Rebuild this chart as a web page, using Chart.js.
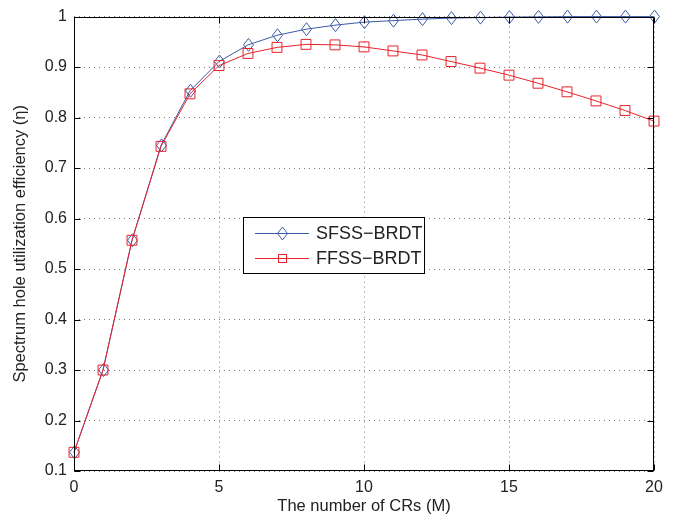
<!DOCTYPE html>
<html><head><meta charset="utf-8">
<script src="https://cdn.jsdelivr.net/npm/chart.js@4/dist/chart.umd.min.js"></script>
<style>html,body{margin:0;padding:0;background:#fff;}#wrap{width:675px;height:518px;}</style>
</head><body>
<div id="wrap"><canvas id="c" width="675" height="518"></canvas></div>
<script>
// ---- data ----
const numCRs = [0,1,2,3,4,5,6,7,8,9,10,11,12,13,14,15,16,17,18,19,20];
const sfssBrdt = [0.137,0.300,0.557,0.745,0.853,0.911,0.944,0.963,0.975,0.983,0.989,0.992,0.995,0.997,0.998,0.999,0.9995,1.0,1.0,1.0,1.0];
const ffssBrdt = [0.137,0.300,0.557,0.743,0.847,0.903,0.927,0.939,0.945,0.944,0.940,0.932,0.924,0.911,0.898,0.884,0.868,0.851,0.833,0.814,0.793];
const xTickValues = [0,5,10,15,20];
const yTickValues = [0.1,0.2,0.3,0.4,0.5,0.6,0.7,0.8,0.9,1];
const seriesNames = ['SFSS\u2212BRDT','FFSS\u2212BRDT'];
const xTitle = 'The number of CRs (M)';
const yTitle = 'Spectrum hole utilization efficiency (\u03B7)';

const BLUE = '#3c5aa8', RED = '#e8232b';
const FONT = "'Liberation Sans', Arial, Helvetica, sans-serif";
Chart.defaults.font.family = FONT;
Chart.defaults.font.size = 16;
Chart.defaults.color = '#222';

function drawDiamond(ctx, x, y, color){
  ctx.save();
  ctx.strokeStyle = color; ctx.lineWidth = 1; ctx.setLineDash([]);
  ctx.beginPath();
  ctx.moveTo(x, y-6.5); ctx.lineTo(x+5, y); ctx.lineTo(x, y+6.5); ctx.lineTo(x-5, y); ctx.closePath();
  ctx.stroke();
  ctx.restore();
}

const toPts = ys => numCRs.map((x,i)=>({x:x,y:ys[i]}));

const diamondPlugin = {
  id:'diamonds',
  afterDatasetDraw(chart, args){
    if (args.index !== 0) return;
    const ds = chart.data.datasets[0];
    args.meta.data.forEach(el=>{
      drawDiamond(chart.ctx, Math.round(el.x)+0.5, el.y, ds.borderColor);
    });
  }
};

const framePlugin = {
  id:'frame',
  afterDraw(chart){
    const ctx = chart.ctx;
    const a = chart.chartArea;
    const L = Math.round(a.left)+0.5, R = Math.round(a.right)-0.5, T = Math.round(a.top)+0.5, B = Math.round(a.bottom)-0.5;
    ctx.save();
    ctx.strokeStyle = '#000'; ctx.lineWidth = 1; ctx.setLineDash([]);
    ctx.strokeRect(L, T, R-L, B-T);
    const xs = chart.scales.x, ys = chart.scales.y;
    ctx.beginPath();
    xTickValues.forEach(v=>{
      const p = Math.round(xs.getPixelForValue(v))+0.5;
      ctx.moveTo(p,B); ctx.lineTo(p,B-6);
      ctx.moveTo(p,T); ctx.lineTo(p,T+6);
    });
    yTickValues.forEach(v=>{
      const p = Math.round(ys.getPixelForValue(v))+0.5;
      ctx.moveTo(L,p); ctx.lineTo(L+6,p);
      ctx.moveTo(R,p); ctx.lineTo(R-6,p);
    });
    ctx.stroke();

    // legend
    const bx = 243.5, by = 217.5, bw = 181, bh = 56;
    ctx.fillStyle = '#fff';
    ctx.fillRect(bx, by, bw, bh);
    ctx.strokeRect(bx, by, bw, bh);
    const rows = [233, 258];
    const ds = chart.data.datasets;
    ds.forEach((d,i)=>{
      const yy = rows[i]+0.5;
      ctx.strokeStyle = d.borderColor; ctx.lineWidth = 1;
      ctx.beginPath(); ctx.moveTo(255,yy); ctx.lineTo(309,yy); ctx.stroke();
      if (i===0){
        drawDiamond(ctx, 282.5, yy, d.borderColor);
      } else {
        ctx.strokeRect(278.5, rows[i]-3.5, 8, 8);
      }
      ctx.fillStyle = '#222';
      ctx.font = '18px ' + FONT;
      ctx.textBaseline = 'middle';
      ctx.textAlign = 'left';
      ctx.fillText(d.label, 316, rows[i]+1);
    });
    ctx.restore();
  }
};

new Chart(document.getElementById('c'), {
  type:'line',
  data:{
    datasets:[
      {label:seriesNames[0], data:toPts(sfssBrdt), borderColor:BLUE, backgroundColor:'rgba(0,0,0,0)',
       borderWidth:1, pointRadius:0, tension:0, clip:false, order:1},
      {label:seriesNames[1], data:toPts(ffssBrdt), borderColor:RED, backgroundColor:'rgba(0,0,0,0)',
       borderWidth:1, pointStyle:'rect', pointRadius:7, pointBorderColor:RED, pointBackgroundColor:'rgba(0,0,0,0)',
       pointBorderWidth:1, tension:0, clip:false, order:0}
    ]
  },
  options:{
    responsive:false,
    animation:false,
    events:[],
    layout:{padding:{top:14,right:21,left:0,bottom:0}},
    plugins:{legend:{display:false}, tooltip:{enabled:false}},
    scales:{
      x:{type:'linear', min:0, max:20,
         afterBuildTicks(s){ s.ticks = xTickValues.map(v=>({value:v})); },
         afterFit(s){ s.height = 47; },
         ticks:{padding:7, maxRotation:0, autoSkip:false, callback:v=>String(v), color:'#222'},
         grid:{color:'#7a7a7a', lineWidth:1, drawTicks:false},
         border:{display:false, dash:[1,4]},
         title:{display:true, text:xTitle, font:{size:16.5}, padding:{top:0,bottom:1.5}, color:'#222'}},
      y:{type:'linear', min:0.1, max:1,
         afterBuildTicks(s){ s.ticks = yTickValues.map(v=>({value:v})); },
         afterFit(s){ s.width = 74; },
         ticks:{padding:7, autoSkip:false, callback:v=>String(v), color:'#222'},
         grid:{color:'#7a7a7a', lineWidth:1, drawTicks:false},
         border:{display:false, dash:[1,4]},
         title:{display:true, text:yTitle, font:{size:16.5}, padding:{top:11,bottom:0}, color:'#222'}}
    }
  },
  plugins:[diamondPlugin, framePlugin]
});
</script>
</body></html>
